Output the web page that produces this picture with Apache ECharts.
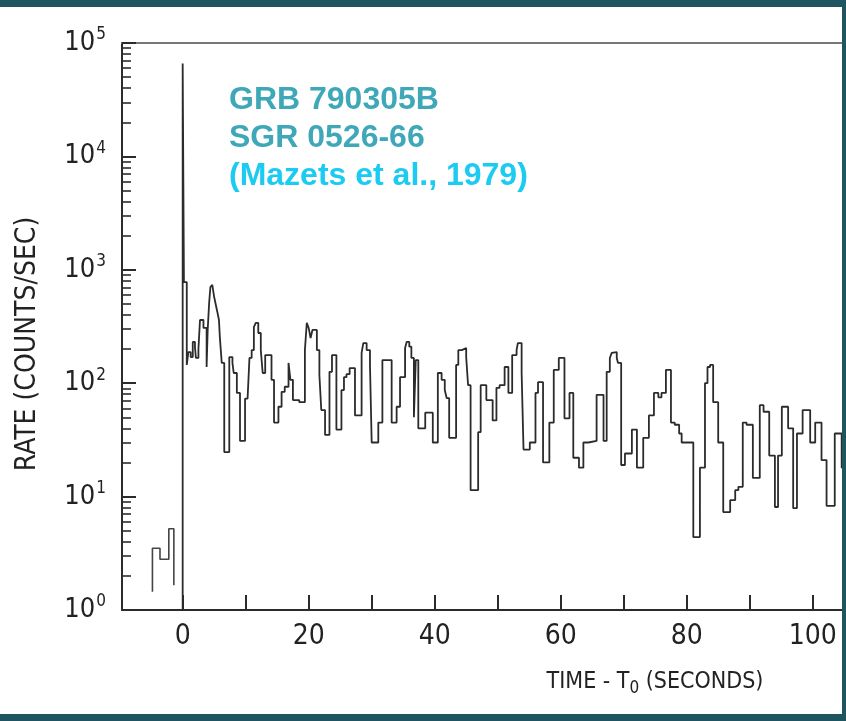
<!DOCTYPE html>
<html>
<head>
<meta charset="utf-8">
<script src="https://cdn.jsdelivr.net/npm/echarts@6/dist/echarts.min.js"></script>
<style>
html,body{margin:0;padding:0;background:#fff;}
#c{width:846px;height:721px;}
</style>
</head>
<body>
<div id="c"></div>
<script>
// ---- Data (time in seconds relative to T0, rate in counts/sec) ----
// Pre-burst background bins
var preStarts = [-4.8, -3.6, -2.2];
var preRates = [3.5, 2.8, 5.2];
var preEnd = -1.4;
var preOuterLevels = [1.45, 1.65]; // where the first/last vertical edges end

// Burst light curve: bin start times and rates
var binStarts = [
  0, 0.2, 0.65, 0.9, 1.27, 1.6, 1.95, 2.1, 2.5, 2.75,
  3.3, 3.8, 3.97, 4.2, 4.4, 4.7, 5.0, 5.2, 5.5, 5.76,
  5.9, 6.2, 6.6, 7.4, 7.9, 8.1, 8.6, 9.1, 9.9, 10.3,
  10.6, 10.95, 11.3, 11.6, 12.0, 12.4, 12.7, 13.1, 14.1, 14.5,
  15.2, 15.7, 16.2, 16.8, 17.1, 17.5, 18.5, 19.4, 19.7, 20.0,
  20.3, 20.6, 21.3, 21.7, 22.0, 22.6, 23.3, 23.7, 24.4, 25.2,
  25.6, 26.0, 26.5, 27.35, 28.4, 28.67, 29.2, 29.73, 30.0, 31.05,
  31.7, 33.17, 33.96, 34.5, 35.3, 35.55, 35.97, 36.3, 36.7, 37.0,
  37.4, 38.5, 39.7, 40.5, 41.1, 41.6, 41.9, 42.3, 43.4, 43.75,
  44.3, 45.0, 45.3, 45.7, 46.9, 47.3, 48.2, 49.2, 49.8, 50.3,
  51.1, 51.7, 52.3, 53.0, 53.2, 53.8, 54.1, 55.1, 56.0, 56.4,
  57.2, 58.2, 58.9, 59.7, 60.6, 61.4, 62.0, 62.9, 63.6, 64.4,
  65.7, 66.8, 67.3, 67.8, 68.1, 68.35, 68.9, 69.1, 69.6, 70.2,
  71.3, 72.1, 73.1, 74.0, 74.8, 75.5, 76.0, 76.7, 77.5, 78.1,
  78.8, 79.2, 81.05, 82.1, 82.9, 83.3, 83.7, 84.2, 85.0, 85.8,
  86.9, 87.7, 88.2, 88.9, 89.5, 90.5, 91.6, 92.2, 93.1, 94.0,
  94.5, 95.1, 96.1, 96.9, 97.5, 98.4, 99.6, 100.4, 101.4, 102.2,
  103.5, 104.6
];
var rates = [
  66000, 780, 145, 188, 170, 231, 208, 167, 200, 361,
  307, 139, 295, 510, 705, 735, 575, 510, 425, 361,
  255, 151, 24.7, 170, 151, 123, 82, 31, 73, 75,
  167, 196, 313, 340, 277, 196, 123, 177, 107, 45,
  62, 84, 93, 151, 107, 71, 68, 196, 340, 307,
  250, 295, 196, 118, 58, 35, 126, 177, 39, 87,
  113, 120, 136, 52, 185, 226, 196, 145, 30, 45,
  160, 45, 62, 113, 204, 231, 210, 167, 50, 160,
  40, 55, 30, 123, 107, 87, 74, 33, 145, 196,
  204, 170, 96, 11.4, 37, 96, 71, 47, 91, 96,
  139, 82, 177, 196, 226, 123, 26, 30, 82, 102,
  20, 45, 131, 167, 49, 82, 22, 18, 30, 31,
  79, 31, 126, 167, 185, 188, 167, 151, 19, 24,
  39, 18, 33, 52, 82, 75, 82, 131, 45, 43,
  36, 30, 4.4, 18, 100, 139, 145, 68, 30, 7.3,
  9.3, 11.4, 12.2, 45, 43, 14.6, 64, 56, 23, 8.1,
  23, 62, 40, 7.9, 36, 58, 30, 45, 21, 8.3,
  36, 18
];
var lastBinEnd = 105.5;
var burstBaseLevel = 1; // the rise at T0 starts from the axis floor

// Axis ticks / labels
var xLabelValues = [0, 20, 40, 60, 80, 100];
var xTickValues = [0, 10, 20, 30, 40, 50, 60, 70, 80, 90, 100];
var yDecades = [1, 10, 100, 1000, 10000, 100000];
var yMinorTicks = [];
for (var d = 0; d < 5; d++) for (var m = 2; m <= 9; m++) yMinorTicks.push(m * Math.pow(10, d));

// ---- Build step polylines from the bins ----
function stepLine(starts, vals, end, firstLevel, lastLevel) {
  var pts = [];
  if (firstLevel != null) pts.push([starts[0], firstLevel]);
  for (var i = 0; i < starts.length; i++) {
    var right = (i + 1 < starts.length) ? starts[i + 1] : end;
    pts.push([starts[i], vals[i]]);
    pts.push([right, vals[i]]);
  }
  if (lastLevel != null) pts.push([end, lastLevel]);
  return pts;
}
var preLine = stepLine(preStarts, preRates, preEnd, preOuterLevels[0], preOuterLevels[1]);
var burstLine = stepLine(binStarts, rates, lastBinEnd, burstBaseLevel, null);

var narrow = "'Liberation Sans Narrow', 'DejaVu Sans Condensed', 'Liberation Sans', sans-serif";
var ink = '#2b2b2b';

var chart = echarts.init(document.getElementById('c'), null, {renderer: 'canvas'});
chart.setOption({
  animation: false,
  backgroundColor: '#ffffff',
  grid: {left: 122, right: 4, top: 43, bottom: 111},
  xAxis: [{
    type: 'value', min: -9.63, max: 104.65,
    axisLine: {show: true, onZero: false, lineStyle: {color: ink, width: 2}},
    axisTick: {show: true, inside: true, length: 15, customValues: xTickValues, lineStyle: {color: ink, width: 2}},
    axisLabel: {customValues: xLabelValues, margin: 13, fontFamily: narrow, fontSize: 28, color: '#222'},
    splitLine: {show: false}
  }, {
    type: 'value', position: 'top', min: -9.63, max: 104.65,
    axisLine: {show: true, onZero: false, lineStyle: {color: '#777', width: 2}},
    axisTick: {show: false}, axisLabel: {show: false}, splitLine: {show: false}
  }],
  yAxis: [{
    type: 'log', logBase: 10, min: 1, max: 100000,
    axisLine: {show: true, onZero: false, lineStyle: {color: ink, width: 2}},
    axisTick: {show: true, inside: true, length: 14, customValues: yDecades, lineStyle: {color: ink, width: 2}},
    axisLabel: {
      customValues: yDecades, margin: 16,
      formatter: function (v) { return '{b|10}{s|' + Math.round(Math.log10(v)) + '}'; },
      rich: {
        b: {fontFamily: narrow, fontSize: 27, color: '#222'},
        s: {fontFamily: narrow, fontSize: 17, color: '#222', padding: [0, 0, 16, 1]}
      }
    },
    splitLine: {show: false}
  }, {
    type: 'log', logBase: 10, min: 1, max: 100000, position: 'left',
    axisLine: {show: false, onZero: false},
    axisTick: {show: true, inside: true, length: 9, customValues: yMinorTicks, lineStyle: {color: ink, width: 1.6}},
    axisLabel: {show: false}, splitLine: {show: false}
  }],
  series: [{
    type: 'line', data: preLine, showSymbol: false, symbol: 'none',
    lineStyle: {color: '#444', width: 1.6}
  }, {
    type: 'line', data: burstLine, showSymbol: false, symbol: 'none',
    lineStyle: {color: ink, width: 1.8}
  }],
  graphic: [
    {type: 'rect', shape: {x: 0, y: 0, width: 846, height: 7}, style: {fill: '#1f5560'}, z: 100},
    {type: 'rect', shape: {x: 0, y: 714, width: 846, height: 7}, style: {fill: '#1f5560'}, z: 100},
    {type: 'rect', shape: {x: 842, y: 0, width: 4, height: 721}, style: {fill: '#1f5560'}, z: 100},
    {type: 'text', x: 28, y: 344, rotation: Math.PI / 2,
      style: {text: 'RATE (COUNTS/SEC)', fontFamily: narrow, fontSize: 28, fill: '#222', align: 'center', verticalAlign: 'middle'}},
    {type: 'text', x: 655, y: 682,
      style: {text: 'TIME - T{sub|0} (SECONDS)', fontFamily: narrow, fontSize: 23, fill: '#222', align: 'center', verticalAlign: 'middle',
        rich: {sub: {fontFamily: narrow, fontSize: 17, fill: '#222', padding: [13, 0, 0, 0]}}}},
    {type: 'text', x: 229, y: 100,
      style: {text: 'GRB 790305B', fontFamily: "'Liberation Sans', Arial, sans-serif", fontWeight: 'bold', fontSize: 32, fill: '#3ea8b8', align: 'left', verticalAlign: 'middle'}},
    {type: 'text', x: 229, y: 138,
      style: {text: 'SGR 0526-66', fontFamily: "'Liberation Sans', Arial, sans-serif", fontWeight: 'bold', fontSize: 32, fill: '#3ea8b8', align: 'left', verticalAlign: 'middle'}},
    {type: 'text', x: 229, y: 176,
      style: {text: '(Mazets et al., 1979)', fontFamily: "'Liberation Sans', Arial, sans-serif", fontWeight: 'bold', fontSize: 32, fill: '#1ccbf2', align: 'left', verticalAlign: 'middle'}}
  ]
});
</script>
</body>
</html>
